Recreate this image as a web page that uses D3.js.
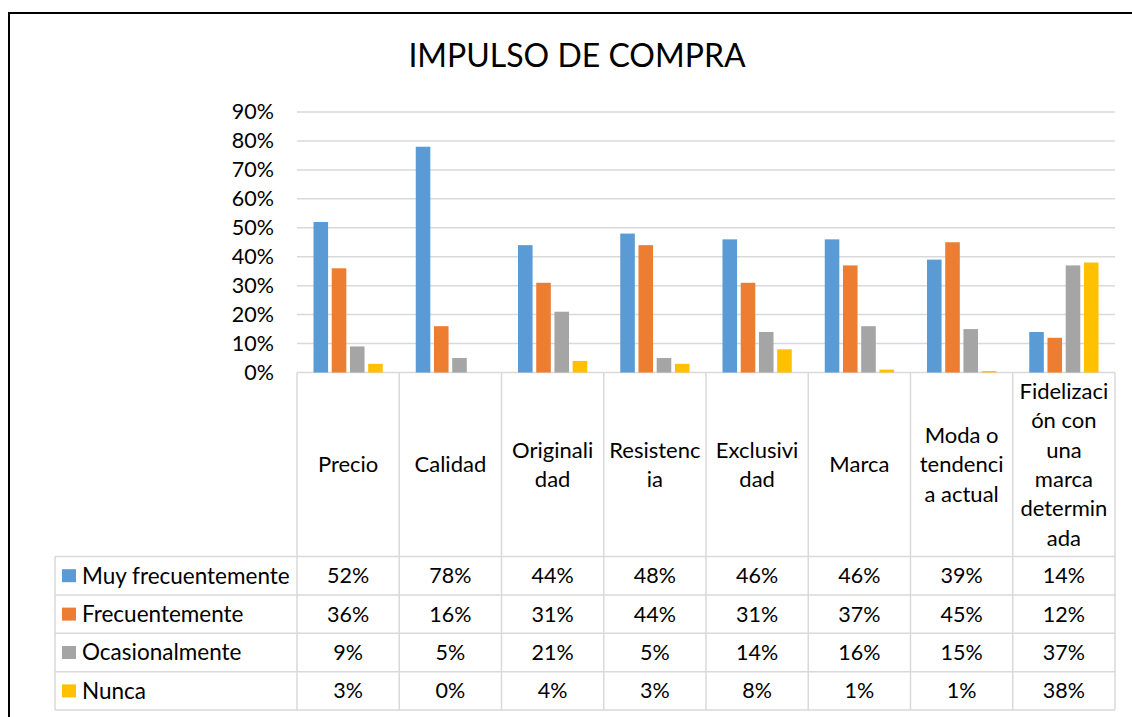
<!DOCTYPE html>
<html>
<head>
<meta charset="utf-8">
<script src="https://cdn.jsdelivr.net/npm/d3@7"></script>
<style>
  body { margin: 0; background: #fff; }
  text { font-family: Lato, "Open Sans", sans-serif; fill: #000; }
</style>
</head>
<body>
<div id="chart"></div>
<script>
// chart data
let title = "IMPULSO DE COMPRA";
let categories = ["Precio", "Calidad", "Originalidad", "Resistencia", "Exclusividad", "Marca", "Moda o tendencia actual", "Fidelización con una marca determinada"];
// the wrapped header text as it appears in the table
let category_lines = [
    ["Precio"],
    ["Calidad"],
    ["Originali", "dad"],
    ["Resistenc", "ia"],
    ["Exclusivi", "dad"],
    ["Marca"],
    ["Moda o", "tendenci", "a actual"],
    ["Fidelizaci", "ón con", "una", "marca", "determin", "ada"]
];
let series_names = ["Muy frecuentemente", "Frecuentemente", "Ocasionalmente", "Nunca"];
let muy_frecuentemente = [0.52, 0.78, 0.44, 0.48, 0.46, 0.46, 0.39, 0.14];
let frecuentemente     = [0.36, 0.16, 0.31, 0.44, 0.31, 0.37, 0.45, 0.12];
let ocasionalmente     = [0.09, 0.05, 0.21, 0.05, 0.14, 0.16, 0.15, 0.37];
let nunca              = [0.03, 0.00, 0.04, 0.03, 0.08, 0.01, 0.005, 0.38];
let y_ticks = [0, 0.1, 0.2, 0.3, 0.4, 0.5, 0.6, 0.7, 0.8, 0.9];

let series_colors = {
    "Muy frecuentemente": "#5b9bd5",
    "Frecuentemente": "#ed7d31",
    "Ocasionalmente": "#a5a5a5",
    "Nunca": "#ffc000"
};

let series_values = [muy_frecuentemente, frecuentemente, ocasionalmente, nunca];

formatPct = d3.format(".0%");

draw_chart("chart");

function draw_chart(div_id) {
    let w = 1132, h = 717;
    let grid_color = "#d9d9d9";
    let fs = "21.5px";

    let plot_left = 297, plot_right = 1115,
        plot_top = 112, plot_bottom = 372.5;
    let table_left = 55,
        header_bottom = 556.5,
        row_h = 38.4;

    var svg = d3.select("#" + div_id).append("svg")
        .attr("width", w)
        .attr("height", h);

    // frame (only the top and left edges are visible)
    svg.append("path")
        .attr("d", "M9," + h + "V13H" + w)
        .attr("fill", "none")
        .attr("stroke", "#000")
        .attr("stroke-width", 2);

    svg.append("text")
        .attr("x", 577)
        .attr("y", 67)
        .attr("text-anchor", "middle")
        .style("font-size", "32px")
        .text(title);

    const x0 = d3.scaleBand()
        .domain(categories)
        .range([plot_left, plot_right]);

    const x1 = d3.scaleBand()
        .domain(series_names)
        .range([16.5, x0.bandwidth() - 16.5])
        .paddingInner(0.2);

    const y = d3.scaleLinear()
        .domain([0, 0.9])
        .range([plot_bottom, plot_top]);

    // gridlines
    svg.append("g").selectAll("line")
        .data(y_ticks)
        .enter().append("line")
          .attr("x1", plot_left)
          .attr("x2", plot_right)
          .attr("y1", function(d) { return y(d); })
          .attr("y2", function(d) { return y(d); })
          .attr("stroke", grid_color)
          .attr("stroke-width", 1.5);

    // y axis labels
    let y_axis = svg.append("g")
        .attr("transform", "translate(" + (plot_left - 4) + ",0)")
        .call(d3.axisLeft(y).tickValues(y_ticks).tickFormat(formatPct).tickSize(0).tickPadding(19));
    y_axis.select(".domain").remove();
    y_axis.selectAll("text")
        .style("font-size", fs)
        .style("font-family", "Lato, sans-serif")
        .attr("fill", "#000");

    // bars
    let rows = series_names.map(function(s, i) {
        return categories.map(function(c, j) {
            return {series: s, category: c, value: series_values[i][j]};
        });
    });

    svg.append("g").selectAll("g")
        .data(rows)
        .enter().append("g")
          .attr("fill", function(d) { return series_colors[d[0].series]; })
        .selectAll("rect")
        .data(function(d) { return d; })
        .enter().append("rect")
          .attr("x", function(d) { return x0(d.category) + x1(d.series); })
          .attr("width", x1.bandwidth())
          .attr("y", function(d) { return y(d.value); })
          .attr("height", function(d) { return y(0) - y(d.value); });

    // data table
    let table_bottom = header_bottom + row_h * series_names.length;
    let tbl = svg.append("g")
        .attr("stroke", grid_color)
        .attr("stroke-width", 1.5);

    // vertical lines between category columns
    let col_edges = categories.map(function(c) { return x0(c); }).concat([plot_right]);
    tbl.selectAll(".vline")
        .data(col_edges)
        .enter().append("line")
          .attr("class", "vline")
          .attr("x1", function(d) { return d; })
          .attr("x2", function(d) { return d; })
          .attr("y1", plot_bottom)
          .attr("y2", table_bottom);

    tbl.append("line")
        .attr("x1", table_left).attr("x2", table_left)
        .attr("y1", header_bottom).attr("y2", table_bottom);

    tbl.selectAll(".hline")
        .data(d3.range(series_names.length + 1))
        .enter().append("line")
          .attr("class", "hline")
          .attr("x1", table_left)
          .attr("x2", plot_right)
          .attr("y1", function(i) { return header_bottom + i * row_h; })
          .attr("y2", function(i) { return header_bottom + i * row_h; });

    // category headers
    let line_h = 29.4;
    let header_mid = (plot_bottom + header_bottom) / 2;
    svg.append("g").selectAll("text")
        .data(categories)
        .enter().append("text")
          .attr("text-anchor", "middle")
          .style("font-size", "22px")
          .each(function(c, j) {
              let lines = category_lines[j];
              let top = header_mid - (lines.length - 1) * line_h / 2;
              d3.select(this).selectAll("tspan")
                  .data(lines)
                  .enter().append("tspan")
                    .attr("x", x0(c) + x0.bandwidth() / 2)
                    .attr("y", function(d, k) { return top + k * line_h; })
                    .attr("dy", "0.35em")
                    .text(function(d) { return d; });
          });

    // legend keys + series names
    let leg = svg.append("g").selectAll("g")
        .data(series_names)
        .enter().append("g")
          .attr("transform", function(d, i) {
              return "translate(0," + (header_bottom + i * row_h + row_h / 2) + ")";
          });

    leg.append("rect")
        .attr("x", 62)
        .attr("y", -6.5)
        .attr("width", 14)
        .attr("height", 13)
        .attr("fill", function(d) { return series_colors[d]; });

    leg.append("text")
        .attr("x", 82)
        .attr("dy", "0.35em")
        .style("font-size", "22.5px")
        .text(function(d) { return d; });

    // values
    svg.append("g").selectAll("g")
        .data(rows)
        .enter().append("g")
        .selectAll("text")
        .data(function(d) { return d; })
        .enter().append("text")
          .attr("x", function(d) { return x0(d.category) + x0.bandwidth() / 2; })
          .attr("y", function(d) {
              return header_bottom + series_names.indexOf(d.series) * row_h + row_h / 2;
          })
          .attr("dy", "0.35em")
          .attr("text-anchor", "middle")
          .style("font-size", fs)
          .text(function(d) { return formatPct(d.value); });
}
</script>
</body>
</html>
